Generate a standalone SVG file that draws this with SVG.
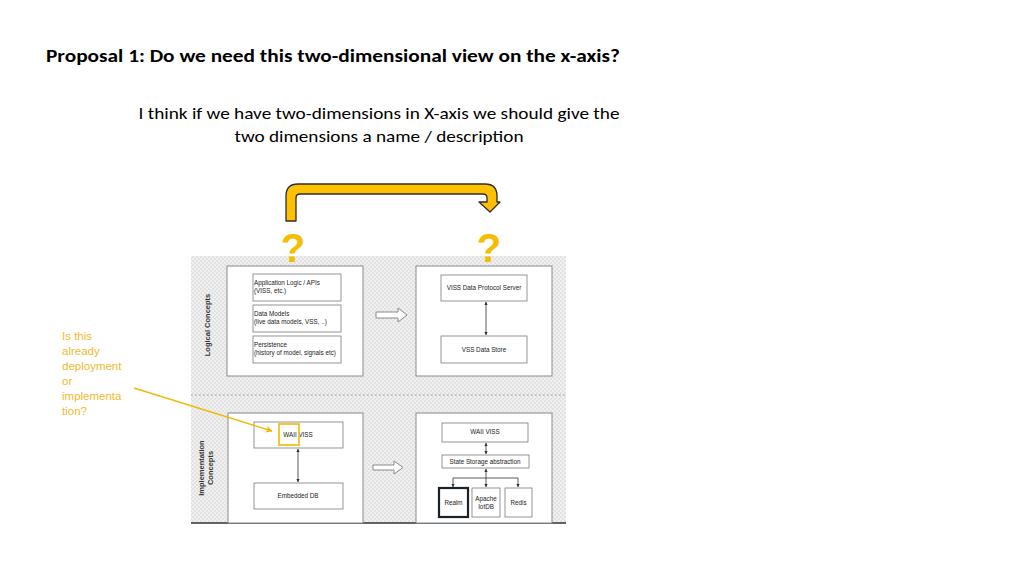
<svg xmlns="http://www.w3.org/2000/svg" width="1024" height="576" viewBox="0 0 1024 576">
<defs>
<pattern id="chk" width="4" height="4" patternUnits="userSpaceOnUse">
<rect width="4" height="4" fill="#f0f0f0"/>
<rect width="2" height="2" fill="#e2e2e2"/>
<rect x="2" y="2" width="2" height="2" fill="#e2e2e2"/>
</pattern>
<marker id="ah" viewBox="0 0 10 10" refX="9" refY="5" markerWidth="4" markerHeight="4" orient="auto-start-reverse">
<path d="M0,0 L10,5 L0,10 z" fill="#333"/>
</marker>
<marker id="ya" viewBox="0 0 10 10" refX="9" refY="5" markerWidth="5" markerHeight="5" orient="auto">
<path d="M0,0 L10,5 L0,10 L3,5 z" fill="#F2B900"/>
</marker>
</defs>
<style>
.t{font-family:"Carlito","Liberation Sans",Arial,sans-serif;fill:#000}
.s{font-family:"Liberation Sans",Arial,sans-serif;font-size:6.3px;fill:#222}
.c{text-anchor:middle}
.outer{fill:#fff;stroke:#8a8a8a;stroke-width:1}
.inner{fill:#fff;stroke:#7a7a7a;stroke-width:0.8}
.lab{font-family:"Liberation Sans",Arial,sans-serif;font-size:7.5px;font-weight:bold;fill:#333;text-anchor:middle}
.yt{font-family:"Liberation Sans",Arial,sans-serif;font-size:11.5px;fill:#F2B92E}
.q{font-family:"Liberation Sans",Arial,sans-serif;font-size:40px;font-weight:bold;fill:#F5BD00;text-anchor:middle}
.con{stroke:#333;stroke-width:0.8;fill:none}
.hollow{fill:#fff;stroke:#8a8a8a;stroke-width:1}
</style>
<rect width="1024" height="576" fill="#fff"/>
<text class="t" x="46" y="62" font-size="17" font-weight="bold" textLength="574" lengthAdjust="spacingAndGlyphs">Proposal 1: Do we need this two-dimensional view on the x-axis?</text>
<text class="t c" x="379" y="119" font-size="16" textLength="481" lengthAdjust="spacingAndGlyphs">I think if we have two-dimensions in X-axis we should give the</text>
<text class="t c" x="379" y="142" font-size="16" textLength="289" lengthAdjust="spacingAndGlyphs">two dimensions a name / description</text>

<g id="background">
<rect x="191" y="256" width="375" height="267" fill="url(#chk)"/>
<line x1="191" y1="395" x2="566" y2="395" stroke="#999" stroke-width="0.8" stroke-dasharray="2,2"/>
<line x1="191" y1="523" x2="566" y2="523" stroke="#333" stroke-width="1.5"/>
</g>

<g id="label-logical"><text class="lab" transform="translate(210,325) rotate(-90)">Logical Concepts</text></g>
<g id="label-impl"><text class="lab" transform="translate(204,468) rotate(-90)">Implementation</text><text class="lab" transform="translate(213,468) rotate(-90)">Concepts</text></g>

<g id="logical-left">
<rect class="outer" x="227" y="266" width="136" height="110"/>
<rect class="inner" x="253" y="274" width="88" height="27"/>
<text class="s" x="254" y="285">Application Logic / APIs</text>
<text class="s" x="254" y="293">(VISS, etc.)</text>
<rect class="inner" x="253" y="305" width="88" height="27"/>
<text class="s" x="254" y="316">Data Models</text>
<text class="s" x="254" y="324">(live data models, VSS, ..)</text>
<rect class="inner" x="253" y="336" width="88" height="27"/>
<text class="s" x="254" y="347">Persistence</text>
<text class="s" x="254" y="355">(history of model, signals etc)</text>
</g>

<g id="logical-right">
<rect class="outer" x="416" y="266" width="136" height="110"/>
<rect class="inner" x="441" y="275" width="86" height="26"/>
<text class="s c" x="484" y="290">VISS Data Protocol Server</text>
<rect class="inner" x="441" y="336" width="86" height="27"/>
<text class="s c" x="484" y="352">VSS Data Store</text>
</g>

<g id="impl-left">
<rect class="outer" x="228" y="413" width="135" height="110"/>
<rect class="inner" x="254" y="422" width="89" height="26"/>
<text class="s c" x="298" y="437">WAII VISS</text>
<rect class="inner" x="254" y="483" width="89" height="26"/>
<text class="s c" x="298" y="498">Embedded DB</text>
<rect x="279" y="424" width="20" height="21" fill="none" stroke="#F2B900" stroke-width="1.6"/>
</g>

<g id="impl-right">
<rect class="outer" x="416" y="413" width="136" height="110"/>
<rect class="inner" x="442" y="423" width="86" height="19"/>
<text class="s c" x="485" y="434">WAII VISS</text>
<rect class="inner" x="442" y="455" width="87" height="13"/>
<text class="s c" x="485" y="464">State Storage abstraction</text>
<rect x="439" y="488" width="29" height="29" fill="#fff" stroke="#1a2228" stroke-width="2.2"/>
<text class="s c" x="453.5" y="505">Realm</text>
<rect class="inner" x="472" y="488" width="28" height="29"/>
<text class="s c" x="486" y="501">Apache</text>
<text class="s c" x="486" y="509">IotDB</text>
<rect class="inner" x="505" y="488" width="27" height="29"/>
<text class="s c" x="518.5" y="505">Redis</text>
</g>

<g id="connectors">
<line class="con" x1="486" y1="302" x2="486" y2="335" marker-start="url(#ah)" marker-end="url(#ah)"/>
<line class="con" x1="298" y1="449" x2="298" y2="482" marker-start="url(#ah)" marker-end="url(#ah)"/>
<line class="con" x1="486" y1="443" x2="486" y2="454" marker-start="url(#ah)" marker-end="url(#ah)"/>
<line class="con" x1="486" y1="469" x2="486" y2="487" marker-start="url(#ah)" marker-end="url(#ah)"/>
<polyline class="con" points="453,487 453,478 518,478 518,487" marker-start="url(#ah)" marker-end="url(#ah)"/>
<path class="hollow" d="M376,312 L398,312 L398,308 L407,315 L398,322 L398,318 L376,318 Z"/>
<path class="hollow" d="M373,465 L394,465 L394,461 L403,467.5 L394,474 L394,470 L373,470 Z"/>
<path d="M286,221 L286,196 Q286,184 298,184 L485,184 Q497,184 497,196 L497,202 L500,202 L490,212 L479,202 L487,202 L487,198 Q487,194 483,194 L300,194 Q296,194 296,198 L296,221 Z" fill="#FFC000" stroke="#2e2e2e" stroke-width="1.3" stroke-linejoin="round"/>
<line x1="134" y1="388" x2="272" y2="431" stroke="#F2B900" stroke-width="1.4" marker-end="url(#ya)"/>
</g>

<g id="questions">
<text class="q" x="293" y="262">?</text>
<text class="q" x="489" y="262">?</text>
</g>

<g id="annotation">
<text class="yt" x="62" y="340">Is this</text>
<text class="yt" x="62" y="355">already</text>
<text class="yt" x="62" y="370">deployment</text>
<text class="yt" x="62" y="385">or</text>
<text class="yt" x="62" y="400">implementa</text>
<text class="yt" x="62" y="415">tion?</text>
</g>
</svg>
